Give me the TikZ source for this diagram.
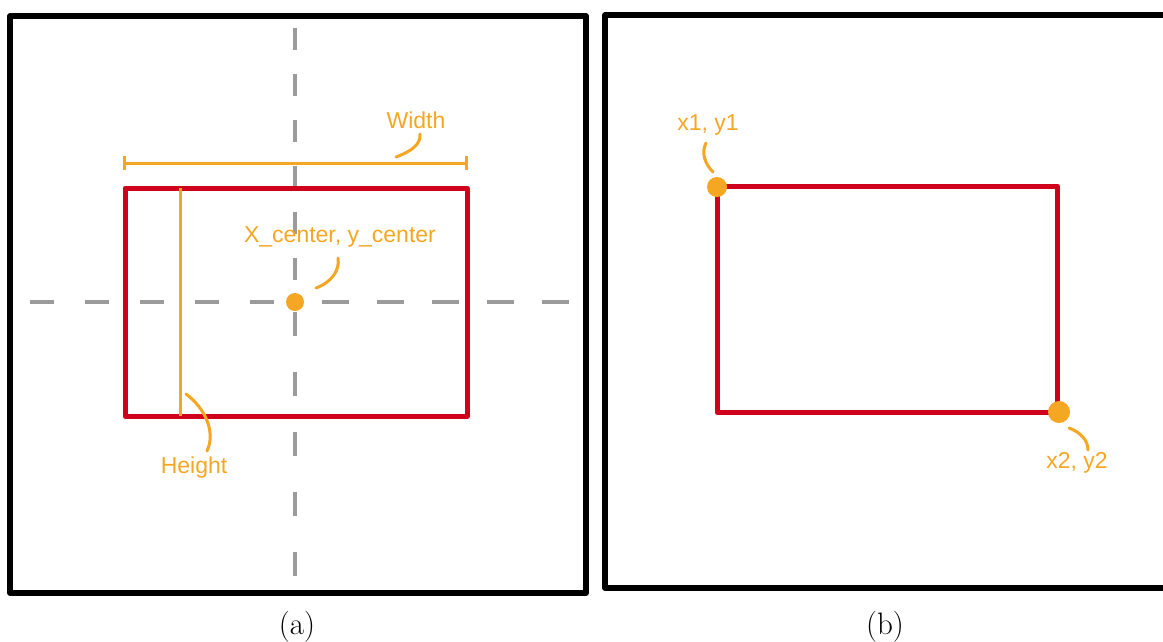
\documentclass[tikz,border=0pt]{standalone}
\usepackage{fontspec}
\newfontfamily\labelfont{Liberation Sans}
\usetikzlibrary{arrows.meta}
\definecolor{boxred}{HTML}{D0021B}
\definecolor{lblorange}{HTML}{F5A623}
\definecolor{axisgray}{HTML}{9B9B9B}
\tikzset{
  frame/.style={draw=black, line width=5.5pt, line join=round},
  bbox/.style={draw=boxred, line width=5pt, line join=round},
  axis/.style={draw=axisgray, line width=3.5pt},
  callout/.style={draw=lblorange, line width=3pt, line cap=round},
  dimline/.style={draw=lblorange, line width=3pt},
  lbl/.style={text=lblorange, font=\labelfont\fontsize{23}{27}\selectfont, inner sep=0pt},
  dotmark/.style={circle, fill=lblorange, inner sep=0pt, minimum size=#1},
  captext/.style={font=\fontsize{31}{36}\selectfont, inner sep=0pt}
}
\begin{document}
\begin{tikzpicture}[x=1pt,y=-1pt]
\useasboundingbox (0,0) rectangle (1163,641);
\clip (0,0) rectangle (1163,641);

% ---------- panel (a) ----------
\draw[frame] (10,16) rectangle (586,593);

% dashed axes
\draw[axis, dash pattern=on 22pt off 24pt] (295,28) -- (295,292);
\draw[axis, dash pattern=on 24pt off 36pt] (295,312) -- (295,578);
\draw[axis, dash pattern=on 24pt off 31pt] (30,302) -- (286,302);
\draw[axis, dash pattern=on 27pt off 28pt] (322,302) -- (572,302);

% bounding box
\draw[bbox] (125,188) rectangle (467,416);

% width dimension
\coordinate (wl) at (123,163);
\coordinate (wr) at (468,163);
\draw[dimline, {Bar[width=14pt]}-{Bar[width=14pt]}] (wl) -- (wr);

% height line
\coordinate (ht) at (180,188);
\coordinate (hb) at (180,416);
\draw[dimline] (ht) -- (hb);

% center
\node[dotmark=18pt] (ctr) at (295,302) {};
\node[lbl] (ctrlbl) at (340,237) {X\_center, y\_center};
\node[lbl] (wlbl) at (416,120) {Width};
\node[lbl] (hlbl) at (194,468) {Height};

\coordinate (c1) at (316,288);
\coordinate (c2) at (338,258);
\draw[callout] (c1) .. controls (332,282) and (340,270) .. (c2);

\coordinate (w1) at (396,157);
\coordinate (w2) at (420,134);
\draw[callout] (w1) .. controls (412,151) and (421,144) .. (w2);

\coordinate (h1) at (186,394);
\coordinate (h2) at (207,451);
\draw[callout] (h1) .. controls (205,408) and (216,432) .. (h2);

\node[captext] (capa) at (297,627) {(a)};

% ---------- panel (b) ----------
\draw[frame] (605,15) rectangle (1180,588);
\draw[bbox] (717,186) rectangle (1057,412);

\node[dotmark=20pt] (p1) at (717,187) {};
\node[dotmark=22pt] (p2) at (1059,412) {};

\node[lbl] (p1lbl) at (708,125) {x1, y1};
\node[lbl] (p2lbl) at (1077,463) {x2, y2};

\coordinate (a1) at (706,143);
\coordinate (a2) at (713,172);
\draw[callout] (a1) .. controls (701,153) and (705,164) .. (a2);

\coordinate (b1) at (1069,428);
\coordinate (b2) at (1088,450);
\draw[callout] (b1) .. controls (1080,432) and (1088,440) .. (b2);

\node[captext] (capb) at (885,627) {(b)};
\end{tikzpicture}
\end{document}
